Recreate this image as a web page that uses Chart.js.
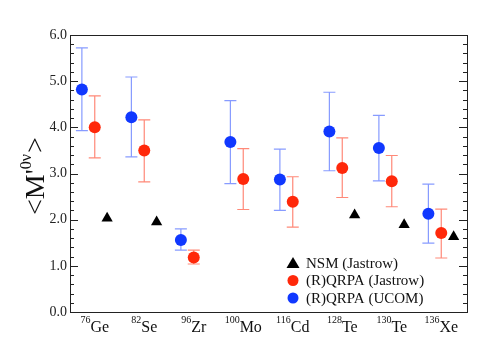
<!DOCTYPE html>
<html>
<head>
<meta charset="utf-8">
<script src="https://cdn.jsdelivr.net/npm/chart.js@4/dist/chart.umd.min.js"></script>
<style>
  html, body { margin: 0; padding: 0; background: #fff; }
  #wrap { width: 491px; height: 357px; }
</style>
</head>
<body>
<div id="wrap"><canvas id="chart"></canvas></div>
<script>
// nuclei along the x axis
const elements = ["Ge", "Se", "Zr", "Mo", "Cd", "Te", "Te", "Xe"];
const massNumbers = ["76", "82", "96", "100", "116", "128", "130", "136"];

// (R)QRPA (UCOM) – blue
const ucomValues = [4.82, 4.22, 1.56, 3.68, 2.87, 3.91, 3.55, 2.13];
const ucomLow = [3.93, 3.36, 1.34, 2.78, 2.20, 3.06, 2.84, 1.49];
const ucomHigh = [5.72, 5.09, 1.80, 4.58, 3.53, 4.76, 4.26, 2.77];

// (R)QRPA (Jastrow) – red
const jastrowValues = [4.00, 3.50, 1.18, 2.88, 2.39, 3.12, 2.83, 1.71];
const jastrowLow = [3.34, 2.82, 1.04, 2.22, 1.84, 2.48, 2.28, 1.17];
const jastrowHigh = [4.68, 4.16, 1.34, 3.54, 2.93, 3.77, 3.39, 2.23];

// NSM (Jastrow) – black triangles, not computed for Zr, Mo, Cd
const nsmValues = [2.03, 1.95, null, null, null, 2.10, 1.89, 1.63];

const yTicks = [0, 1, 2, 3, 4, 5, 6];

const BLUE = "rgb(16,56,255)";
const RED = "rgb(255,40,10)";
const SERIF = "'Liberation Serif', 'DejaVu Serif', serif";

const pts = (vals, off) => vals.map((v, i) => v == null ? null : { x: i + off, y: v }).filter(p => p);

// error bars + frame + inward ticks + labels, all through the chart scales
const decor = {
    id: "decor",
    beforeDatasetsDraw(chart) {
        const { ctx, scales: { x, y } } = chart;
        const bars = [
            { low: ucomLow, high: ucomHigh, off: -0.26, color: "rgba(16,56,255,0.5)" },
            { low: jastrowLow, high: jastrowHigh, off: 0, color: "rgba(255,40,10,0.55)" },
        ];
        ctx.save();
        ctx.lineWidth = 1.2;
        bars.forEach(b => {
            ctx.strokeStyle = b.color;
            b.low.forEach((lo, i) => {
                const px = x.getPixelForValue(i + b.off);
                const y1 = y.getPixelForValue(lo);
                const y2 = y.getPixelForValue(b.high[i]);
                ctx.beginPath();
                ctx.moveTo(px, y1); ctx.lineTo(px, y2);
                ctx.moveTo(px - 6, y1); ctx.lineTo(px + 6, y1);
                ctx.moveTo(px - 6, y2); ctx.lineTo(px + 6, y2);
                ctx.stroke();
            });
        });
        ctx.restore();
    },
    afterDraw(chart) {
        const { ctx, chartArea: a, scales: { x, y } } = chart;
        ctx.save();
        // frame
        ctx.strokeStyle = "#222";
        ctx.lineWidth = 1;
        ctx.strokeRect(a.left + 0.5, a.top + 0.5, a.right - a.left, a.bottom - a.top);
        // inward ticks left and right
        for (let k = 0; k <= 30; k++) {
            const v = k * 0.2;
            const py = Math.round(y.getPixelForValue(v)) + 0.5;
            const len = k % 5 === 0 ? 8 : 4;
            ctx.beginPath();
            ctx.moveTo(a.left, py); ctx.lineTo(a.left + len, py);
            ctx.moveTo(a.right, py); ctx.lineTo(a.right - len, py);
            ctx.stroke();
        }
        // x labels with mass number superscripts
        ctx.fillStyle = "#111";
        ctx.textBaseline = "alphabetic";
        elements.forEach((el, i) => {
            ctx.font = "10px " + SERIF;
            const wSup = ctx.measureText(massNumbers[i]).width;
            ctx.font = "16px " + SERIF;
            const wEl = ctx.measureText(el).width;
            const cx = x.getPixelForValue(i);
            const x0 = cx - (wSup + wEl) / 2;
            ctx.font = "10px " + SERIF;
            ctx.fillText(massNumbers[i], x0, a.bottom + 11);
            ctx.font = "16px " + SERIF;
            ctx.fillText(el, x0 + wSup, a.bottom + 20);
        });
        // y axis title  <M'0ν>
        ctx.translate(44, 215);
        ctx.rotate(-Math.PI / 2);
        ctx.font = "28px " + SERIF;
        let px = 0;
        ctx.fillText("<M'", px, 0);
        px += ctx.measureText("<M'").width;
        ctx.font = "16px " + SERIF;
        ctx.fillText("0ν", px, -13);
        px += ctx.measureText("0ν").width + 1;
        ctx.font = "28px " + SERIF;
        ctx.fillText(">", px, 0);
        ctx.restore();

        // legend inside the plot
        ctx.save();
        const rows = [
            { text: "NSM (Jastrow)", color: "#000", shape: "triangle" },
            { text: "(R)QRPA (Jastrow)", color: RED, shape: "circle" },
            { text: "(R)QRPA (UCOM)", color: BLUE, shape: "circle" },
        ];
        ctx.font = "15px " + SERIF;
        ctx.textBaseline = "middle";
        rows.forEach((r, i) => {
            const ly = 263 + i * 17.5;
            ctx.fillStyle = r.color;
            ctx.beginPath();
            if (r.shape === "circle") {
                ctx.arc(293, ly, 5.5, 0, Math.PI * 2);
            } else {
                ctx.moveTo(293, ly - 6); ctx.lineTo(299.5, ly + 5); ctx.lineTo(286.5, ly + 5); ctx.closePath();
            }
            ctx.fill();
            ctx.fillStyle = "#111";
            ctx.fillText(r.text, 306, ly + 1);
        });
        ctx.restore();
    }
};

new Chart(document.getElementById("chart"), {
    type: "scatter",
    data: {
        datasets: [
            {
                label: "NSM (Jastrow)",
                data: pts(nsmValues, 0.25),
                pointStyle: "triangle",
                pointRadius: 6.5,
                backgroundColor: "#000",
                borderColor: "#000",
                borderWidth: 0,
            },
            {
                label: "(R)QRPA (Jastrow)",
                data: pts(jastrowValues, 0),
                pointRadius: 6,
                backgroundColor: RED,
                borderColor: RED,
                borderWidth: 0,
            },
            {
                label: "(R)QRPA (UCOM)",
                data: pts(ucomValues, -0.26),
                pointRadius: 6,
                backgroundColor: BLUE,
                borderColor: BLUE,
                borderWidth: 0,
            },
        ]
    },
    options: {
        responsive: true,
        maintainAspectRatio: false,
        animation: false,
        layout: { padding: { top: 35, right: 24, left: 0, bottom: 0 } },
        plugins: {
            legend: { display: false },
            tooltip: { enabled: false },
        },
        scales: {
            x: {
                type: "linear",
                min: -0.5,
                max: 7.52,
                grid: { display: false, drawTicks: false },
                border: { display: false },
                ticks: { display: false },
                afterFit: s => { s.height = 45; },
            },
            y: {
                min: 0,
                max: 6,
                afterBuildTicks: s => { s.ticks = yTicks.map(v => ({ value: v })); },
                grid: { display: false, drawTicks: false },
                border: { display: false },
                ticks: {
                    padding: 3,
                    color: "#222",
                    font: { family: SERIF, size: 14 },
                    callback: v => v.toFixed(1),
                },
                afterFit: s => { s.width = 70; },
            }
        }
    },
    plugins: [decor]
});
</script>
</body>
</html>
